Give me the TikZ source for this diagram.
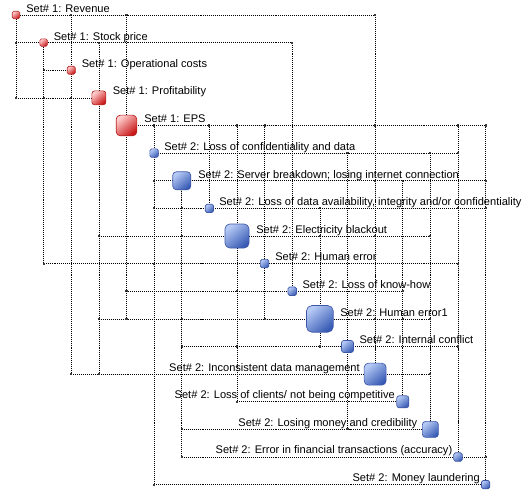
\documentclass[tikz,border=0pt]{standalone}
\usepackage{xcolor}
\usepackage{tikz}
\usepackage{fontspec}
\setmainfont{Liberation Sans}
\usetikzlibrary{backgrounds}

\definecolor{redLt}{RGB}{255,205,205}
\definecolor{redMd}{RGB}{236,52,52}
\definecolor{redDk}{RGB}{200,22,22}
\definecolor{redBd}{RGB}{185,35,35}
\definecolor{bluLt}{RGB}{182,202,245}
\definecolor{bluMd}{RGB}{82,122,210}
\definecolor{bluDk}{RGB}{55,90,180}
\definecolor{bluBd}{RGB}{62,88,168}
\definecolor{dotGr}{RGB}{60,60,60}

\begin{document}
\begin{tikzpicture}[x=0.75pt,y=0.75pt,yscale=-1,xscale=1,
    setA/.style={draw=redBd, line width=0.5pt, minimum size=#1, inner sep=0pt, rounded corners=0.2*#1,
        top color=redLt, middle color=redMd, bottom color=redDk, shading angle=40},
    setB/.style={draw=bluBd, line width=0.5pt, minimum size=#1, inner sep=0pt, rounded corners=0.2*#1,
        top color=bluLt, middle color=bluMd, bottom color=bluDk, shading angle=40},
    link/.style={line width=0.5pt, dash pattern=on 0.74pt off 0.74pt},
    dot/.style={fill=dotGr, inner sep=0pt, minimum size=1.6pt},
    lbl/.style={inner sep=0pt, font=\fontsize{8.3}{10}\selectfont}]
        \useasboundingbox (0,0) rectangle (523,495);

        \draw (16,15) node [setA=5.6pt] (rev) {};
        \draw (43.625,42.625) node [setA=5.6pt] (stock) {};
        \draw (71.25,70.25) node [setA=6pt] (opcost) {};
        \draw (98.875,97.875) node [setA=10.5pt] (profit) {};
        \draw (126.5,125.5) node [setA=15.5pt] (eps) {};
        \draw (154.125,153.125) node [setB=6.4pt] (conf) {};
        \draw (181.75,180.75) node [setB=13.5pt] (server) {};
        \draw (209.375,208.375) node [setB=6.2pt] (avail) {};
        \draw (237,236) node [setB=18pt] (blackout) {};
        \draw (264.625,263.625) node [setB=6.4pt] (human) {};
        \draw (292.25,291.25) node [setB=6.4pt] (knowhow) {};
        \draw (319.875,318.875) node [setB=20pt] (humanb) {};
        \draw (347.5,346.5) node [setB=9pt] (conflict) {};
        \draw (375.125,374.125) node [setB=16.5pt] (incons) {};
        \draw (402.75,401.75) node [setB=9pt] (clients) {};
        \draw (430.375,429.375) node [setB=12pt] (credib) {};
        \draw (458,457) node [setB=6.4pt] (fintrans) {};
        \draw (485.625,484.625) node [setB=6.2pt] (launder) {};

        \begin{scope}[on background layer]
        \draw [link] (rev.center) -| node [dot] (k1) {} (opcost.center);
        \draw [link] (rev.center) -| node [dot] (k2) {} (eps.center);
        \draw [link] (rev.center) -| node [dot] (k3) {} (incons.center);
        \draw [link] (stock.center) -| node [dot] (k4) {} (profit.center);
        \draw [link] (stock.center) -| node [dot] (k5) {} (knowhow.center);
        \draw [link] (eps.center) -| node [dot] (k6) {} (conf.center);
        \draw [link] (eps.center) -| node [dot] (k7) {} (avail.center);
        \draw [link] (eps.center) -| node [dot] (k8) {} (blackout.center);
        \draw [link] (eps.center) -| node [dot] (k9) {} (human.center);
        \draw [link] (eps.center) -| node [dot] (k10) {} (incons.center);
        \draw [link] (eps.center) -| node [dot] (k11) {} (fintrans.center);
        \draw [link] (eps.center) -| node [dot] (k12) {} (launder.center);
        \draw [link] (conf.center) -| node [dot] (k13) {} (conflict.center);
        \draw [link] (conf.center) -| node [dot] (k14) {} (credib.center);
        \draw [link] (conf.center) -| node [dot] (k15) {} (fintrans.center);
        \draw [link] (server.center) -| node [dot] (k16) {} (incons.center);
        \draw [link] (server.center) -| node [dot] (k17) {} (clients.center);
        \draw [link] (server.center) -| node [dot] (k18) {} (launder.center);
        \draw [link] (avail.center) -| node [dot] (k19) {} (humanb.center);
        \draw [link] (avail.center) -| node [dot] (k20) {} (fintrans.center);
        \draw [link] (avail.center) -| node [dot] (k21) {} (launder.center);
        \draw [link] (blackout.center) -| node [dot] (k22) {} (humanb.center);
        \draw [link] (blackout.center) -| node [dot] (k23) {} (incons.center);
        \draw [link] (blackout.center) -| node [dot] (k24) {} (credib.center);
        \draw [link] (human.center) -| node [dot] (k25) {} (fintrans.center);
        \draw [link] (knowhow.center) -| node [dot] (k26) {} (clients.center);
        \draw [link] (humanb.center) -| node [dot] (k27) {} (incons.center);
        \draw [link] (humanb.center) -| node [dot] (k28) {} (clients.center);
        \draw [link] (humanb.center) -| node [dot] (k29) {} (credib.center);
        \draw [link] (conflict.center) -| node [dot] (k30) {} (fintrans.center);
        \draw [link] (incons.center) -| node [dot] (k31) {} (credib.center);
        \draw [link] (fintrans.center) -| node [dot] (k32) {} (launder.center);

        \draw [link] (rev.center) |- node [dot] (k33) {} (stock.center);
        \draw [link] (rev.center) |- node [dot] (k34) {} (profit.center);
        \draw [link] (stock.center) |- node [dot] (k35) {} (opcost.center);
        \draw [link] (stock.center) |- node [dot] (k36) {} (profit.center);
        \draw [link] (stock.center) |- node [dot] (k37) {} (human.center);
        \draw [link] (opcost.center) |- node [dot] (k38) {} (profit.center);
        \draw [link] (opcost.center) |- node [dot] (k39) {} (incons.center);
        \draw [link] (profit.center) |- node [dot] (k40) {} (blackout.center);
        \draw [link] (profit.center) |- node [dot] (k41) {} (humanb.center);
        \draw [link] (profit.center) |- node [dot] (k42) {} (incons.center);
        \draw [link] (eps.center) |- node [dot] (k43) {} (knowhow.center);
        \draw [link] (eps.center) |- node [dot] (k44) {} (humanb.center);
        \draw [link] (conf.center) |- node [dot] (k45) {} (server.center);
        \draw [link] (conf.center) |- node [dot] (k46) {} (avail.center);
        \draw [link] (conf.center) |- node [dot] (k47) {} (human.center);
        \draw [link] (conf.center) |- node [dot] (k48) {} (launder.center);
        \draw [link] (server.center) |- node [dot] (k49) {} (avail.center);
        \draw [link] (server.center) |- node [dot] (k50) {} (blackout.center);
        \draw [link] (server.center) |- node [dot] (k51) {} (humanb.center);
        \draw [link] (server.center) |- node [dot] (k52) {} (conflict.center);
        \draw [link] (server.center) |- node [dot] (k53) {} (credib.center);
        \draw [link] (server.center) |- node [dot] (k54) {} (fintrans.center);
        \draw [link] (blackout.center) |- node [dot] (k55) {} (knowhow.center);
        \draw [link] (blackout.center) |- node [dot] (k56) {} (conflict.center);
        \draw [link] (blackout.center) |- node [dot] (k57) {} (clients.center);
        \draw [link] (human.center) |- node [dot] (k58) {} (humanb.center);
        \draw [link] (humanb.center) |- node [dot] (k59) {} (conflict.center);
        \draw [link] (conflict.center) |- node [dot] (k60) {} (credib.center);
        \end{scope}

        \draw (26,13) node [lbl, anchor=base west] (t1) {Set\# 1: Revenue};
        \draw (53.5,41) node [lbl, anchor=base west] (t2) {Set\# 1: Stock price};
        \draw (81.5,67.5) node [lbl, anchor=base west] (t3) {Set\# 1: Operational costs};
        \draw (112.5,95) node [lbl, anchor=base west] (t4) {Set\# 1: Profitability};
        \draw (144,122.3) node [lbl, anchor=base west] (t5) {Set\# 1: EPS};
        \draw (164,150.5) node [lbl, anchor=base west] (t6) {Set\# 2: Loss of confidentiality and data};
        \draw (198,178) node [lbl, anchor=base west] (t7) {Set\# 2: Server breakdown; losing internet connection};
        \draw (219,205.5) node [lbl, anchor=base west] (t8) {Set\# 2: Loss of data availability, integrity and/or confidentiality};
        \draw (256,233.3) node [lbl, anchor=base west] (t9) {Set\# 2: Electricity blackout};
        \draw (275,260.7) node [lbl, anchor=base west] (t10) {Set\# 2: Human error};
        \draw (302.3,288.3) node [lbl, anchor=base west] (t11) {Set\# 2: Loss of know-how};
        \draw (340,316) node [lbl, anchor=base west] (t12) {Set\# 2: Human error1};
        \draw (359.3,343.3) node [lbl, anchor=base west] (t13) {Set\# 2: Internal conflict};
        \draw (360,371.5) node [lbl, anchor=base east] (t14) {Set\# 2: Inconsistent data management};
        \draw (395,398.5) node [lbl, anchor=base east] (t15) {Set\# 2: Loss of clients/ not being competitive};
        \draw (417.5,426.5) node [lbl, anchor=base east] (t16) {Set\# 2: Losing money and credibility};
        \draw (452.5,453.5) node [lbl, anchor=base east] (t17) {Set\# 2: Error in financial transactions (accuracy)};
        \draw (480,481) node [lbl, anchor=base east] (t18) {Set\# 2: Money laundering};
\end{tikzpicture}
\end{document}
